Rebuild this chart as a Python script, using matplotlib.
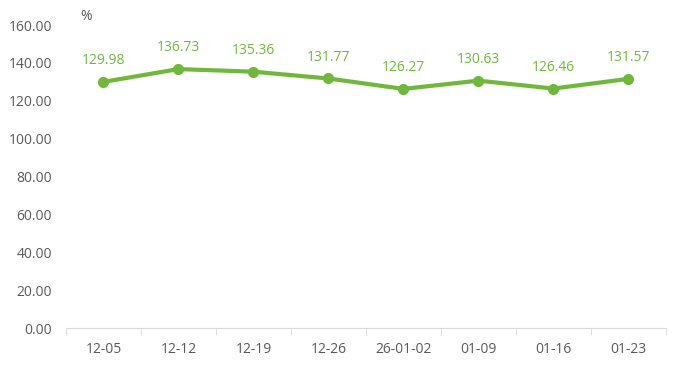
import matplotlib.pyplot as plt
import numpy as np

plt.rcParams['font.family'] = ['Open Sans', 'DejaVu Sans']

dates = ['12-05', '12-12', '12-19', '12-26', '26-01-02', '01-09', '01-16', '01-23']
values = [129.98, 136.73, 135.36, 131.77, 126.27, 130.63, 126.46, 131.57]

green = '#70B83C'
grey = '#595959'

fig = plt.figure(figsize=(6.76, 3.65), dpi=100)
ax = fig.add_axes([0.0976, 0.101, 0.8874, 0.8305])

x = np.arange(len(dates))
ax.plot(x, values, color=green, linewidth=3, marker='o', markersize=7)
for xi, v in zip(x, values):
    ax.annotate(f'{v:.2f}', (xi, v), xytext=(0, 10), textcoords='offset points',
                ha='center', va='bottom', color=green, fontsize=10)

ax.set_xlim(-0.5, len(dates) - 0.5)
ax.set_ylim(0, 160)
ax.set_yticks(np.arange(0, 161, 20))
ax.set_yticklabels([f'{t:.2f}' for t in np.arange(0, 161, 20)])
ax.set_xticks(x)
ax.set_xticklabels(dates)
ax.set_xticks(np.arange(-0.5, len(dates), 1), minor=True)

for s in ['top', 'right', 'left']:
    ax.spines[s].set_visible(False)
ax.spines['bottom'].set_color('#D9D9D9')
ax.tick_params(axis='x', which='major', length=0, pad=10, labelsize=10, labelcolor=grey)
ax.tick_params(axis='x', which='minor', length=5, color='#D9D9D9', direction='out')
ax.tick_params(axis='y', length=0, pad=10, labelsize=10, labelcolor=grey)

fig.text(0.127, 0.955, '%', ha='center', va='center', color=grey, fontsize=10)

fig.savefig('out.png', dpi=100)
